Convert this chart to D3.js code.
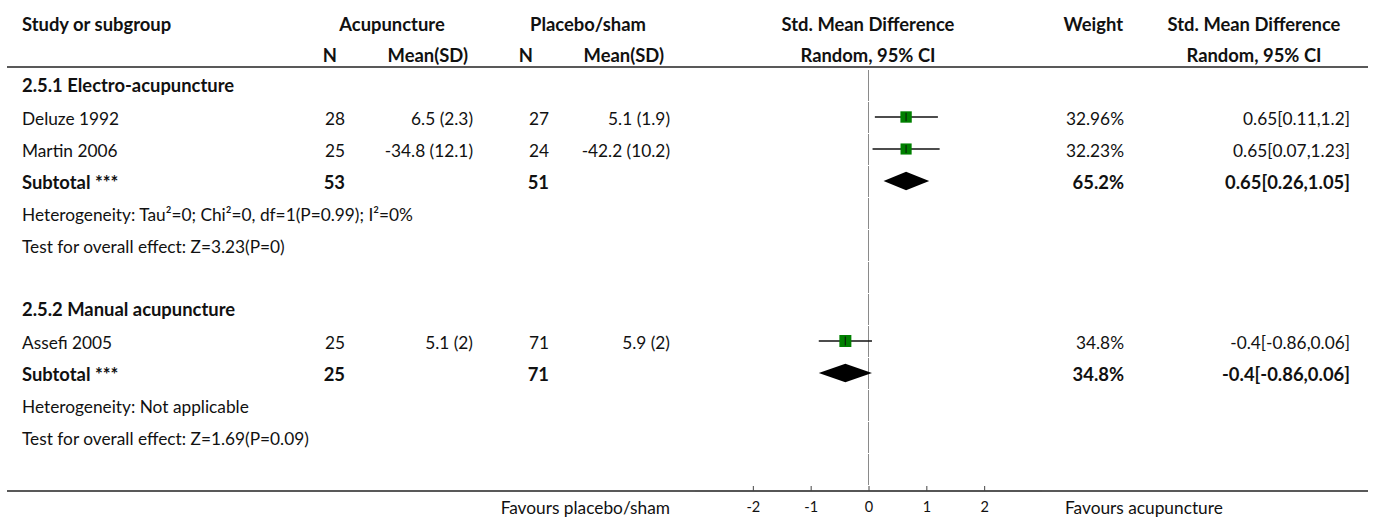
<!DOCTYPE html>
<html><head><meta charset="utf-8">
<script src="https://cdn.jsdelivr.net/npm/d3@7"></script>
<style>
body{margin:0;background:#fff;}
svg{display:block;}
text{font-family:"Source Sans Pro","Lato",sans-serif;fill:#111;}
.b{font-weight:bold;}
</style></head><body>
<svg id="c" width="1375" height="518"></svg>
<script>
// ---- data ----
const groups = ["2.5.1 Electro-acupuncture", "2.5.2 Manual acupuncture"];
const studies = ["Deluze 1992", "Martin 2006", "Assefi 2005"];
const studyGroup = [0, 0, 1];
const acupN = [28, 25, 25];
const acupMeanSD = ["6.5 (2.3)", "-34.8 (12.1)", "5.1 (2)"];
const placN = [27, 24, 71];
const placMeanSD = ["5.1 (1.9)", "-42.2 (10.2)", "5.9 (2)"];
const smd = [0.65, 0.65, -0.4];
const lo = [0.11, 0.07, -0.86];
const hi = [1.2, 1.23, 0.06];
const weight = [32.96, 32.23, 34.8];
const ciText = ["0.65[0.11,1.2]", "0.65[0.07,1.23]", "-0.4[-0.86,0.06]"];
const subAcupN = [53, 25];
const subPlacN = [51, 71];
const subSmd = [0.65, -0.4];
const subLo = [0.26, -0.86];
const subHi = [1.05, 0.06];
const subWeight = ["65.2%", "34.8%"];
const subCiText = ["0.65[0.26,1.05]", "-0.4[-0.86,0.06]"];
const heterogeneity = ["Heterogeneity: Tau²=0; Chi²=0, df=1(P=0.99); I²=0%", "Heterogeneity: Not applicable"];
const overall = ["Test for overall effect: Z=3.23(P=0)", "Test for overall effect: Z=1.69(P=0.09)"];
const ticks = [-2, -1, 0, 1, 2];
const favLeft = "Favours placebo/sham";
const favRight = "Favours acupuncture";

// ---- layout ----
const svg = d3.select("#c");
const FS = 17.3, FSB = 18.4;
const x = d3.scaleLinear().domain([-3, 3]).range([695, 1042]);
const boxSize = d3.scaleLinear().domain([0, 34.8]).range([0, 12]);
const rowH = 32, row0 = 85;
const col = {study:22, aN:345, aM:473, pN:549, pM:670, w:1124, ci:1350};

function txt(s, xx, yy, anchor, bold){
  return svg.append("text").attr("x", xx).attr("y", yy)
    .attr("text-anchor", anchor || "start")
    .attr("font-size", bold ? FSB : FS)
    .attr("class", bold ? "b" : null).text(s);
}

// header
const h1 = 31, h2 = 62;
txt("Study or subgroup", col.study, h1, "start", true);
txt("Acupuncture", 392, h1, "middle", true);
txt("Placebo/sham", 588, h1, "middle", true);
txt("Std. Mean Difference", 868, h1, "middle", true);
txt("Weight", 1123, h1, "end", true);
txt("Std. Mean Difference", 1254, h1, "middle", true);
txt("N", 337, h2, "end", true);
txt("Mean(SD)", 468, h2, "end", true);
txt("N", 533, h2, "end", true);
txt("Mean(SD)", 664, h2, "end", true);
txt("Random, 95% CI", 868, h2, "middle", true);
txt("Random, 95% CI", 1254, h2, "middle", true);
svg.append("line").attr("x1", 7).attr("x2", 1368).attr("y1", 67).attr("y2", 67)
  .attr("stroke", "#222").attr("stroke-width", 1.5);

// build rows
const rows = [];
groups.forEach((g, gi) => {
  rows.push({type:"group", gi});
  studies.forEach((s, si) => { if (studyGroup[si] === gi) rows.push({type:"study", si}); });
  rows.push({type:"sub", gi});
  rows.push({type:"het", gi});
  rows.push({type:"test", gi});
  rows.push({type:"blank"});
});

const yc = i => row0 + i * rowH;
const base = i => yc(i) + 8;

// zero line segments per row
svg.selectAll("line.zero").data(rows).enter().append("line")
  .attr("x1", x(0)).attr("x2", x(0))
  .attr("y1", (d, i) => yc(i) - 15).attr("y2", (d, i) => yc(i) + 16)
  .attr("stroke", "#8a8a8a").attr("stroke-width", 1);

rows.forEach((r, i) => {
  const yb = base(i), y = yc(i);
  if (r.type === "group") txt(groups[r.gi], col.study, yb - 1, "start", true);
  if (r.type === "study") {
    const k = r.si;
    txt(studies[k], col.study, yb);
    txt(acupN[k], col.aN, yb, "end");
    txt(acupMeanSD[k], col.aM, yb, "end");
    txt(placN[k], col.pN, yb, "end");
    txt(placMeanSD[k], col.pM, yb, "end");
    txt(weight[k] + "%", col.w, yb, "end");
    txt(ciText[k], col.ci, yb, "end");
    svg.append("line").attr("x1", x(lo[k])).attr("x2", x(hi[k])).attr("y1", y).attr("y2", y)
      .attr("stroke", "#111").attr("stroke-width", 1.4);
    const b = boxSize(weight[k]);
    svg.append("rect").attr("x", x(smd[k]) - b/2).attr("y", y - b/2).attr("width", b).attr("height", b)
      .attr("fill", "#008000");
    svg.append("line").attr("x1", x(smd[k])).attr("x2", x(smd[k])).attr("y1", y - b/2 + 1.5).attr("y2", y + b/2 - 1.5)
      .attr("stroke", "#0a2a0a").attr("stroke-width", 1.3);
  }
  if (r.type === "sub") {
    const g = r.gi;
    txt("Subtotal ***", col.study, yb, "start", true);
    txt(subAcupN[g], col.aN, yb, "end", true);
    txt(subPlacN[g], col.pN, yb, "end", true);
    txt(subWeight[g], col.w, yb, "end", true);
    txt(subCiText[g], col.ci, yb, "end", true);
    const pts = [[x(subLo[g]), y], [x(subSmd[g]), y - 9.3], [x(subHi[g]), y], [x(subSmd[g]), y + 9.3]];
    svg.append("path").attr("d", d3.line()(pts) + "Z").attr("fill", "#000");
  }
  if (r.type === "het") txt(heterogeneity[r.gi], col.study, yb);
  if (r.type === "test") txt(overall[r.gi], col.study, yb);
});

// bottom border + axis
const ay = 491;
svg.append("line").attr("x1", 7).attr("x2", 1368).attr("y1", ay).attr("y2", ay)
  .attr("stroke", "#222").attr("stroke-width", 1.5);
const axis = d3.axisTop(x).tickValues(ticks).tickSize(5).tickFormat(d3.format("d"));
const ag = svg.append("g").attr("transform", `translate(0,${ay})`).call(axis);
ag.select(".domain").attr("d", `M${x(-3)},0H${x(3)}`).attr("stroke", "#555");
ag.selectAll(".tick line").attr("stroke", "#444");
ag.selectAll(".tick text").attr("y", 21).attr("dy", 0).attr("font-size", 14.5)
  .attr("font-family", "'Source Sans Pro','Lato',sans-serif").attr("fill", "#111")
  .text(d => d);
txt(favLeft, 670, 514, "end");
txt(favRight, 1065, 514, "start");
</script></body></html>
